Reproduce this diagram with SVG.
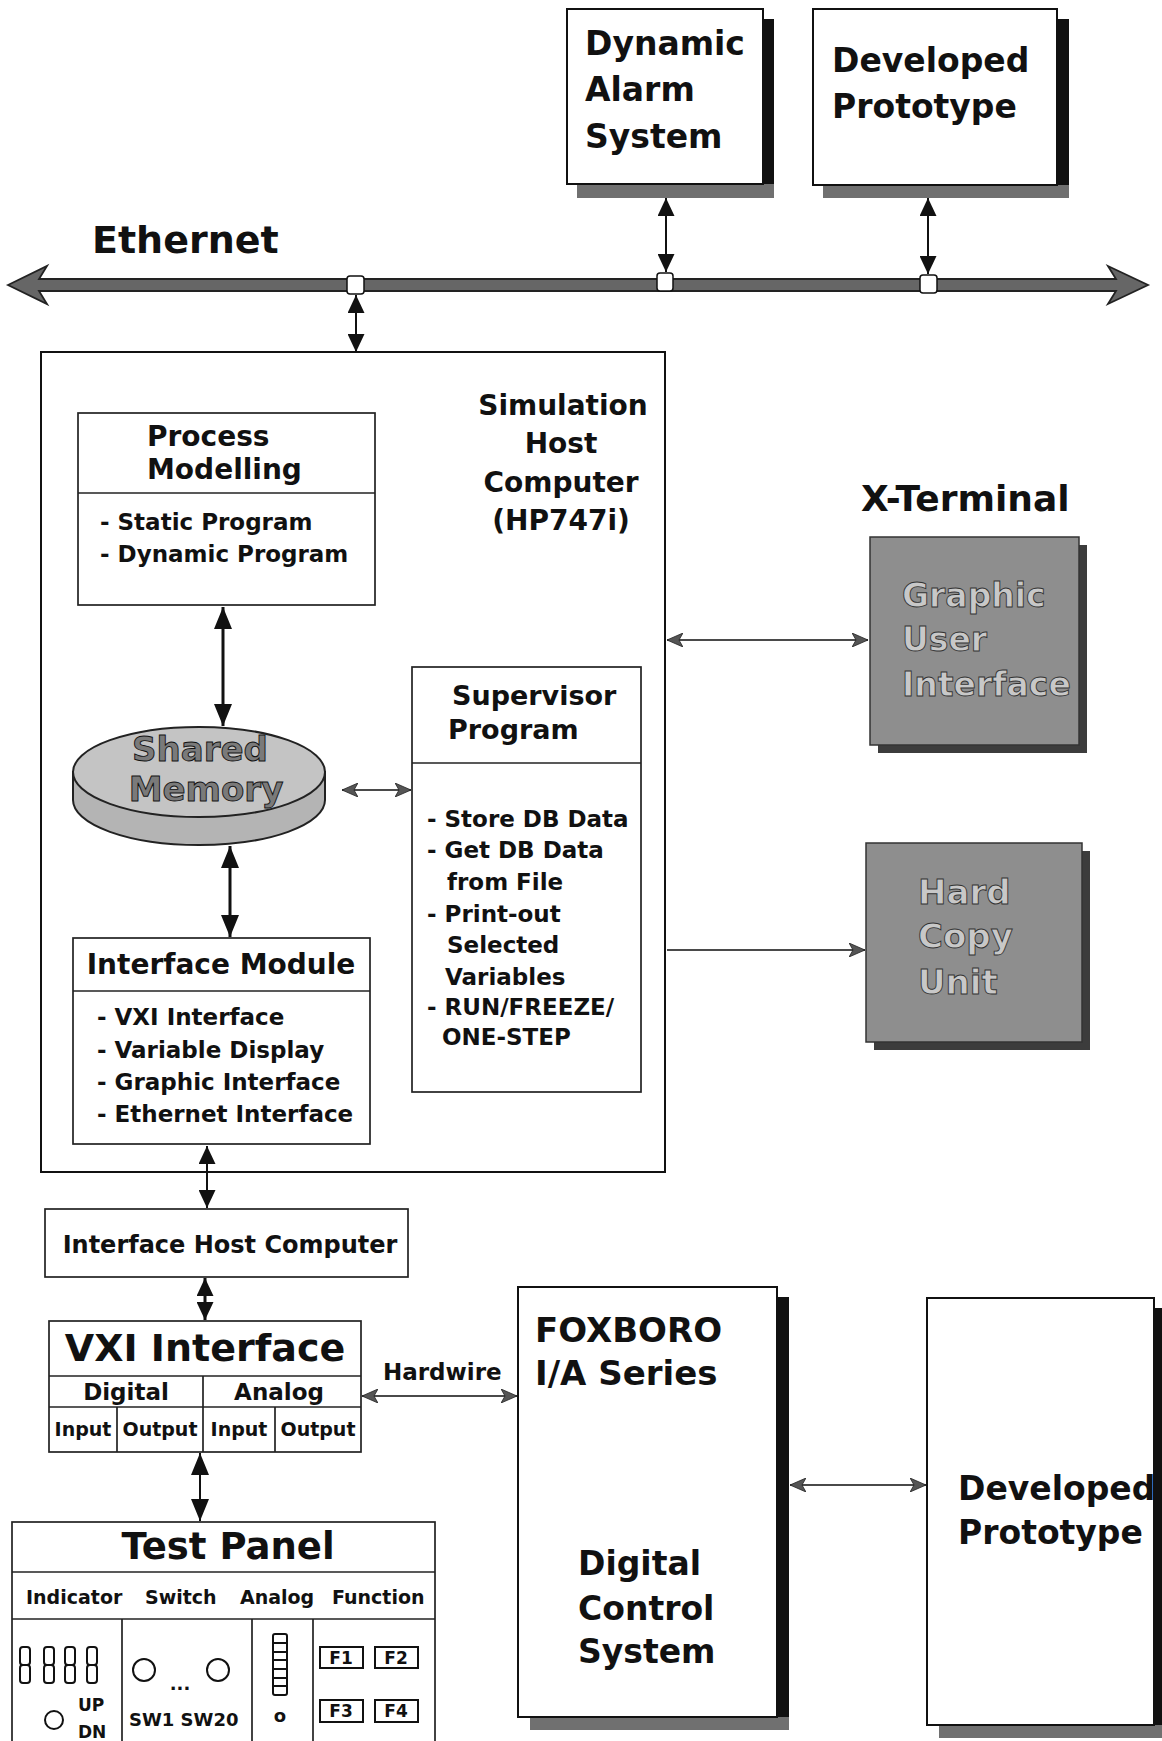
<svg xmlns="http://www.w3.org/2000/svg" width="1162" height="1741" viewBox="0 0 1162 1741">
<style>
text{font-family:"DejaVu Sans","Liberation Sans",Arial,sans-serif;font-weight:bold;fill:#111}
.box{fill:#fff;stroke:#111;stroke-width:2}
.thin{fill:#fff;stroke:#222;stroke-width:1.7}
.shR{fill:#111}
.shB{fill:#707070}
.gbox{fill:#8e8e8e;stroke:#333;stroke-width:1.5}
.gsh{fill:#3c3c3c}
.gtxt{fill:#c8c8c8;stroke:#333;stroke-width:0.9}
.mtxt{fill:#7a7a7a;stroke:#111;stroke-width:0.9}
.ln{stroke:#111;stroke-width:2;fill:none}
.lnk{stroke:#111;stroke-width:3;fill:none}
.lng{stroke:#4a4a4a;stroke-width:2;fill:none}
.dv{stroke:#222;stroke-width:1.7;fill:none}
.c{text-anchor:middle}
.f38{font-size:38px}.f37{font-size:37px}.f36{font-size:36px}.f34{font-size:34px}.f33{font-size:33px}
.f29{font-size:29px}.f28{font-size:28px}.f27{font-size:27px}.f24{font-size:24px}.f23{font-size:23px}
.f19{font-size:19px}.f18{font-size:18px}.f17{font-size:17px}
</style>
<defs>
<marker id="ab" viewBox="0 0 18 17" refX="18" refY="8.5" markerWidth="18" markerHeight="17" markerUnits="userSpaceOnUse" orient="auto-start-reverse"><path d="M0,0 L18,8.5 L0,17 Z" fill="#111"/></marker>
<marker id="ak" viewBox="0 0 22 18" refX="22" refY="9" markerWidth="22" markerHeight="18" markerUnits="userSpaceOnUse" orient="auto-start-reverse"><path d="M0,0 L22,9 L0,18 Z" fill="#111"/></marker>
<marker id="ag" viewBox="0 0 16 14" refX="16" refY="7" markerWidth="16" markerHeight="14" markerUnits="userSpaceOnUse" orient="auto-start-reverse"><path d="M0,0 L16,7 L0,14 L4,7 Z" fill="#555" stroke="#222" stroke-width="0.8"/></marker>
</defs>

<g id="ethernet">
<text class="f38" x="92" y="253">Ethernet</text>
<path d="M8,285 L47,266 L39,279 L1116,279 L1108,266 L1148,285 L1108,304 L1116,291 L39,291 L47,304 Z" fill="#666" stroke="#222" stroke-width="1.8"/>
<rect x="347" y="276" width="17" height="18" rx="3" fill="#fff" stroke="#111" stroke-width="1.5"/>
<rect x="657" y="273" width="16" height="18" rx="3" fill="#fff" stroke="#111" stroke-width="1.5"/>
<rect x="920" y="275" width="17" height="18" rx="3" fill="#fff" stroke="#111" stroke-width="1.5"/>
</g>

<g id="dynamic-alarm">
<rect class="shR" x="763" y="19" width="11" height="179"/>
<rect class="shB" x="577" y="184" width="197" height="14"/>
<rect class="box" x="567" y="9" width="196" height="175"/>
<text class="f33" x="585" y="55">Dynamic</text>
<text class="f33" x="585" y="101">Alarm</text>
<text class="f33" x="585" y="148">System</text>
</g>

<g id="developed-prototype-top">
<rect class="shR" x="1057" y="19" width="12" height="179"/>
<rect class="shB" x="823" y="185" width="246" height="13"/>
<rect class="box" x="813" y="9" width="244" height="176"/>
<text class="f33" x="832" y="72">Developed</text>
<text class="f33" x="832" y="118">Prototype</text>
</g>

<g id="simulation-host">
<rect class="box" x="41" y="352" width="624" height="820"/>
<text class="f28 c" x="563" y="415">Simulation</text>
<text class="f28 c" x="561" y="453">Host</text>
<text class="f28 c" x="561" y="492">Computer</text>
<text class="f28 c" x="561" y="530">(HP747i)</text>
</g>

<g id="process-modelling">
<rect class="thin" x="78" y="413" width="297" height="192"/>
<line class="dv" x1="78" y1="493" x2="375" y2="493"/>
<text class="f28" x="147" y="446">Process</text>
<text class="f28" x="147" y="479">Modelling</text>
<text class="f23" x="100" y="530">- Static Program</text>
<text class="f23" x="100" y="562">- Dynamic Program</text>
</g>

<g id="shared-memory">
<path d="M73,772 L73,800 A126,45 0 0 0 325,800 L325,772 Z" fill="#b4b4b4" stroke="#222" stroke-width="2"/>
<ellipse cx="199" cy="772" rx="126" ry="45" fill="#c4c4c4" stroke="#222" stroke-width="2"/>
<text class="f34 c mtxt" x="200" y="761">Shared</text>
<text class="f34 c mtxt" x="206" y="801">Memory</text>
</g>

<g id="supervisor-program">
<rect class="thin" x="412" y="667" width="229" height="425"/>
<line class="dv" x1="412" y1="763" x2="641" y2="763"/>
<text class="f27" x="452" y="705">Supervisor</text>
<text class="f27" x="448" y="739">Program</text>
<text class="f23" x="427" y="827">- Store DB Data</text>
<text class="f23" x="427" y="858">- Get DB Data</text>
<text class="f23" x="447" y="890">from  File</text>
<text class="f23" x="427" y="922">- Print-out</text>
<text class="f23" x="447" y="953">Selected</text>
<text class="f23" x="445" y="985">Variables</text>
<text class="f23" x="427" y="1015">- RUN/FREEZE/</text>
<text class="f23" x="442" y="1045">ONE-STEP</text>
</g>

<g id="interface-module">
<rect class="thin" x="73" y="938" width="297" height="206"/>
<line class="dv" x1="73" y1="991" x2="370" y2="991"/>
<text class="f28 c" x="221" y="974">Interface Module</text>
<text class="f23" x="97" y="1025">- VXI Interface</text>
<text class="f23" x="97" y="1058">- Variable Display</text>
<text class="f23" x="97" y="1090">- Graphic Interface</text>
<text class="f23" x="97" y="1122">- Ethernet Interface</text>
</g>

<g id="x-terminal">
<text class="f36" x="861" y="511">X-Terminal</text>
</g>

<g id="graphic-user-interface">
<rect class="gsh" x="878" y="545" width="209" height="208"/>
<rect class="gbox" x="870" y="537" width="209" height="208"/>
<text class="f33 gtxt" x="902" y="607">Graphic</text>
<text class="f33 gtxt" x="902" y="651">User</text>
<text class="f33 gtxt" x="902" y="696">Interface</text>
</g>

<g id="hard-copy-unit">
<rect class="gsh" x="874" y="851" width="216" height="199"/>
<rect class="gbox" x="866" y="843" width="216" height="199"/>
<text class="f34 gtxt" x="918" y="904">Hard</text>
<text class="f34 gtxt" x="918" y="948">Copy</text>
<text class="f34 gtxt" x="918" y="994">Unit</text>
</g>

<g id="interface-host-computer">
<rect class="thin" x="45" y="1209" width="363" height="68"/>
<text class="f24 c" x="230" y="1253">Interface Host Computer</text>
</g>

<g id="vxi-interface">
<rect class="thin" x="49" y="1321" width="312" height="131"/>
<line class="dv" x1="49" y1="1376" x2="361" y2="1376"/>
<line class="dv" x1="49" y1="1407" x2="361" y2="1407"/>
<line class="dv" x1="203" y1="1376" x2="203" y2="1452"/>
<line class="dv" x1="117" y1="1407" x2="117" y2="1452"/>
<line class="dv" x1="275" y1="1407" x2="275" y2="1452"/>
<text class="f38 c" x="205" y="1361">VXI Interface</text>
<text class="f23 c" x="126" y="1400">Digital</text>
<text class="f23 c" x="279" y="1400">Analog</text>
<text class="f19 c" x="83" y="1436">Input</text>
<text class="f19 c" x="160" y="1436">Output</text>
<text class="f19 c" x="239" y="1436">Input</text>
<text class="f19 c" x="318" y="1436">Output</text>
</g>

<g id="test-panel">
<rect class="thin" x="12" y="1522" width="423" height="240"/>
<line class="dv" x1="12" y1="1572" x2="435" y2="1572"/>
<line class="dv" x1="12" y1="1619" x2="435" y2="1619"/>
<line class="dv" x1="122" y1="1619" x2="122" y2="1741"/>
<line class="dv" x1="252" y1="1619" x2="252" y2="1741"/>
<line class="dv" x1="313" y1="1619" x2="313" y2="1741"/>
<text class="f37 c" x="228" y="1559">Test Panel</text>
<text class="f19" x="26" y="1604">Indicator</text>
<text class="f19" x="145" y="1604">Switch</text>
<text class="f19" x="240" y="1604">Analog</text>
<text class="f19" x="332" y="1604">Function</text>
<g fill="none" stroke="#111" stroke-width="2">
<rect x="20" y="1647" width="10" height="18" rx="3"/><rect x="20" y="1665" width="10" height="18" rx="3"/>
<rect x="44" y="1647" width="10" height="18" rx="3"/><rect x="44" y="1665" width="10" height="18" rx="3"/>
<rect x="65" y="1647" width="10" height="18" rx="3"/><rect x="65" y="1665" width="10" height="18" rx="3"/>
<rect x="87" y="1647" width="10" height="18" rx="3"/><rect x="87" y="1665" width="10" height="18" rx="3"/>
<circle cx="54" cy="1720" r="9"/>
<circle cx="144" cy="1670" r="11"/>
<circle cx="218" cy="1670" r="11"/>
<rect x="273" y="1634" width="14" height="61" rx="2"/>
<path d="M273,1643 H287 M273,1652 H287 M273,1660 H287 M273,1669 H287 M273,1678 H287 M273,1686 H287"/>
<rect x="320" y="1647" width="43" height="21"/>
<rect x="375" y="1647" width="43" height="21"/>
<rect x="320" y="1700" width="43" height="22"/>
<rect x="375" y="1700" width="43" height="22"/>
</g>
<text class="f17" x="78" y="1711">UP</text>
<text class="f17" x="78" y="1738">DN</text>
<text class="f18 c" x="180" y="1690">...</text>
<text class="f18" x="129" y="1726">SW1 SW20</text>
<text class="f18 c" x="280" y="1722">o</text>
<text class="f17 c" x="341" y="1664">F1</text>
<text class="f17 c" x="396" y="1664">F2</text>
<text class="f17 c" x="341" y="1717">F3</text>
<text class="f17 c" x="396" y="1717">F4</text>
</g>

<g id="hardwire-label">
<text class="f23" x="383" y="1380">Hardwire</text>
</g>

<g id="foxboro">
<rect class="shR" x="777" y="1297" width="12" height="433"/>
<rect class="shB" x="530" y="1717" width="259" height="13"/>
<rect class="box" x="518" y="1287" width="259" height="430"/>
<text class="f34" x="535" y="1342">FOXBORO</text>
<text class="f34" x="535" y="1385">I/A Series</text>
<text class="f33" x="578" y="1575">Digital</text>
<text class="f33" x="578" y="1620">Control</text>
<text class="f33" x="578" y="1663">System</text>
</g>

<g id="developed-prototype-bottom">
<rect class="shR" x="1154" y="1308" width="10" height="430"/>
<rect class="shB" x="939" y="1725" width="225" height="13"/>
<rect class="box" x="927" y="1298" width="227" height="427"/>
<text class="f33" x="958" y="1500">Developed</text>
<text class="f33" x="958" y="1544">Prototype</text>
</g>

<g id="connectors">
<line class="ln" x1="666" y1="198" x2="666" y2="272" marker-start="url(#ab)" marker-end="url(#ab)"/>
<line class="ln" x1="928" y1="198" x2="928" y2="274" marker-start="url(#ab)" marker-end="url(#ab)"/>
<line class="ln" x1="356" y1="295" x2="356" y2="352" marker-start="url(#ab)" marker-end="url(#ab)"/>
<line class="lnk" x1="223" y1="607" x2="223" y2="726" marker-start="url(#ak)" marker-end="url(#ak)"/>
<line class="lnk" x1="230" y1="846" x2="230" y2="937" marker-start="url(#ak)" marker-end="url(#ak)"/>
<line class="lng" x1="342" y1="790" x2="411" y2="790" marker-start="url(#ag)" marker-end="url(#ag)"/>
<line class="lng" x1="667" y1="640" x2="868" y2="640" marker-start="url(#ag)" marker-end="url(#ag)"/>
<line class="lng" x1="667" y1="950" x2="865" y2="950" marker-end="url(#ag)"/>
<line class="ln" x1="207" y1="1146" x2="207" y2="1208" marker-start="url(#ab)" marker-end="url(#ab)"/>
<line class="lnk" x1="205" y1="1278" x2="205" y2="1320" marker-start="url(#ab)" marker-end="url(#ab)"/>
<line class="ln" x1="200" y1="1453" x2="200" y2="1521" marker-start="url(#ak)" marker-end="url(#ak)"/>
<line class="lng" x1="362" y1="1396" x2="517" y2="1396" marker-start="url(#ag)" marker-end="url(#ag)"/>
<line class="lng" x1="790" y1="1485" x2="926" y2="1485" marker-start="url(#ag)" marker-end="url(#ag)"/>
</g>
</svg>
